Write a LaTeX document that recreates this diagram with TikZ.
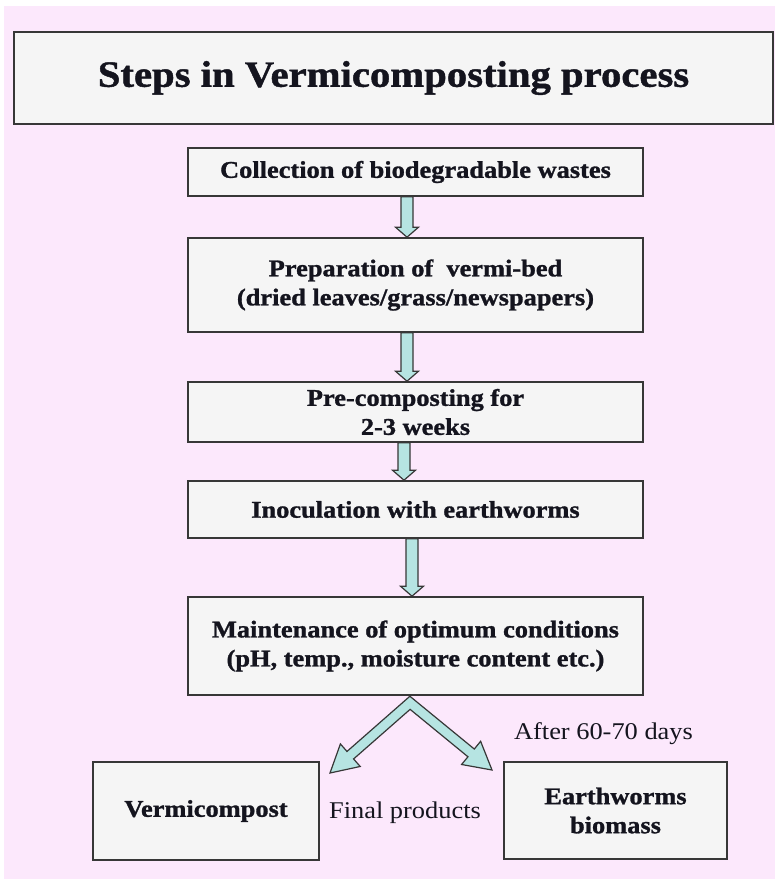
\documentclass[tikz,border=0pt]{standalone}
\usepackage{fontspec}
\setmainfont{Liberation Serif}[FakeStretch=1.1,BoldFeatures={FakeBold=1.2}]
\usetikzlibrary{calc}
\definecolor{slidepink}{RGB}{252,232,252}
\definecolor{boxgrey}{RGB}{245,245,245}
\definecolor{edgegrey}{RGB}{55,55,55}
\definecolor{arrowcyan}{RGB}{182,228,226}
\definecolor{inkdark}{RGB}{20,20,30}
\tikzset{
  stepbox/.style={draw=edgegrey,line width=1.6pt,fill=boxgrey,align=center,inner sep=0pt,text=inkdark,
    font=\bfseries\fontsize{24}{29}\selectfont},
  blockarr/.style={draw=edgegrey,line width=1.2pt,fill=arrowcyan,line join=miter},
  note/.style={anchor=base,text=inkdark,font=\fontsize{24}{29}\selectfont}
}
% fat arrow: from, to, half shaft, half head, head length
\newcommand{\blockarrow}[5]{%
  \coordinate (ba-base) at ($(#2)!#5!(#1)$);
  \draw[blockarr] ($(#1)!#3!90:(#2)$) -- ($(ba-base)!#3!90:(#2)$) -- ($(ba-base)!#4!90:(#2)$)
    -- (#2) -- ($(ba-base)!#4!-90:(#2)$) -- ($(ba-base)!#3!-90:(#2)$) -- ($(#1)!#3!-90:(#2)$) -- cycle;}
\begin{document}
\begin{tikzpicture}[x=1pt,y=-1pt]
    \useasboundingbox (0,0) rectangle (775,879);
    \fill[white] (0,0) rectangle (775,879);
    \fill[slidepink] (4,6) rectangle (775,879);
		\draw (393.5,78) node[stepbox,minimum width=759,minimum height=92,font=\bfseries\fontsize{37}{44}\selectfont](Title) {Steps in Vermicomposting process};
		\draw (415.5,172) node[stepbox,minimum width=455,minimum height=48](Collect) {Collection of biodegradable wastes};
		\draw (415.5,285) node[stepbox,minimum width=455,minimum height=94](Prep) {Preparation of\ \ vermi-bed\\(dried leaves/grass/newspapers)};
		\draw (415.5,412) node[stepbox,minimum width=455,minimum height=60](PreComp) {Pre-composting for\\2-3 weeks};
		\draw (415.5,509.5) node[stepbox,minimum width=455,minimum height=57](Inoc) {Inoculation with earthworms};
		\draw (415.5,646) node[stepbox,minimum width=455,minimum height=98](Maint) {Maintenance of optimum conditions\\(pH, temp., moisture content etc.)};
		\draw (206,811) node[stepbox,minimum width=226,minimum height=98](Vermi) {Vermicompost};
		\draw (615.5,810.5) node[stepbox,minimum width=223,minimum height=97](Worms) {Earthworms\\biomass};
		\draw (603.5,739) node[note](After) {After 60-70 days};
		\draw (405,818) node[note](Final) {Final products};
        \blockarrow{[xshift=-8.5pt]Collect.south}{[xshift=-8.5pt]Prep.north}{6pt}{11.5pt}{10pt}
        \blockarrow{[xshift=-8.5pt]Prep.south}{[xshift=-8.5pt]PreComp.north}{6pt}{11.5pt}{10pt}
        \blockarrow{[xshift=-11.5pt]PreComp.south}{[xshift=-11.5pt]Inoc.north}{6pt}{11.5pt}{10pt}
        \blockarrow{[xshift=-3.5pt]Inoc.south}{[xshift=-3.5pt]Maint.north}{6pt}{11.5pt}{10pt}
        % forked arrow to the two products
        \coordinate (fork) at ([xshift=-5.5pt,yshift=-7pt]Maint.south);
        \coordinate (tipL) at (330,773);
        \coordinate (tipR) at (492,770);
        \coordinate (baseL) at ($(tipL)!27pt!(fork)$);
        \coordinate (baseR) at ($(tipR)!27pt!(fork)$);
        \coordinate (oL1) at ($(fork)!5pt!-90:(tipL)$);
        \coordinate (oL2) at ($(baseL)!5pt!-90:(tipL)$);
        \coordinate (iL1) at ($(fork)!5pt!90:(tipL)$);
        \coordinate (iL2) at ($(baseL)!5pt!90:(tipL)$);
        \coordinate (oR1) at ($(fork)!5pt!90:(tipR)$);
        \coordinate (oR2) at ($(baseR)!5pt!90:(tipR)$);
        \coordinate (iR1) at ($(fork)!5pt!-90:(tipR)$);
        \coordinate (iR2) at ($(baseR)!5pt!-90:(tipR)$);
        \coordinate (outJ) at (intersection of oL1--oL2 and oR1--oR2);
        \coordinate (inJ) at (intersection of iL1--iL2 and iR1--iR2);
        \draw[blockarr] (outJ) -- (oL2) -- ($(baseL)!15pt!-90:(tipL)$) -- (tipL) -- ($(baseL)!15pt!90:(tipL)$)
          -- (iL2) -- (inJ) -- (iR2) -- ($(baseR)!15pt!-90:(tipR)$) -- (tipR) -- ($(baseR)!15pt!90:(tipR)$)
          -- (oR2) -- cycle;
    \end{tikzpicture}
\end{document}
